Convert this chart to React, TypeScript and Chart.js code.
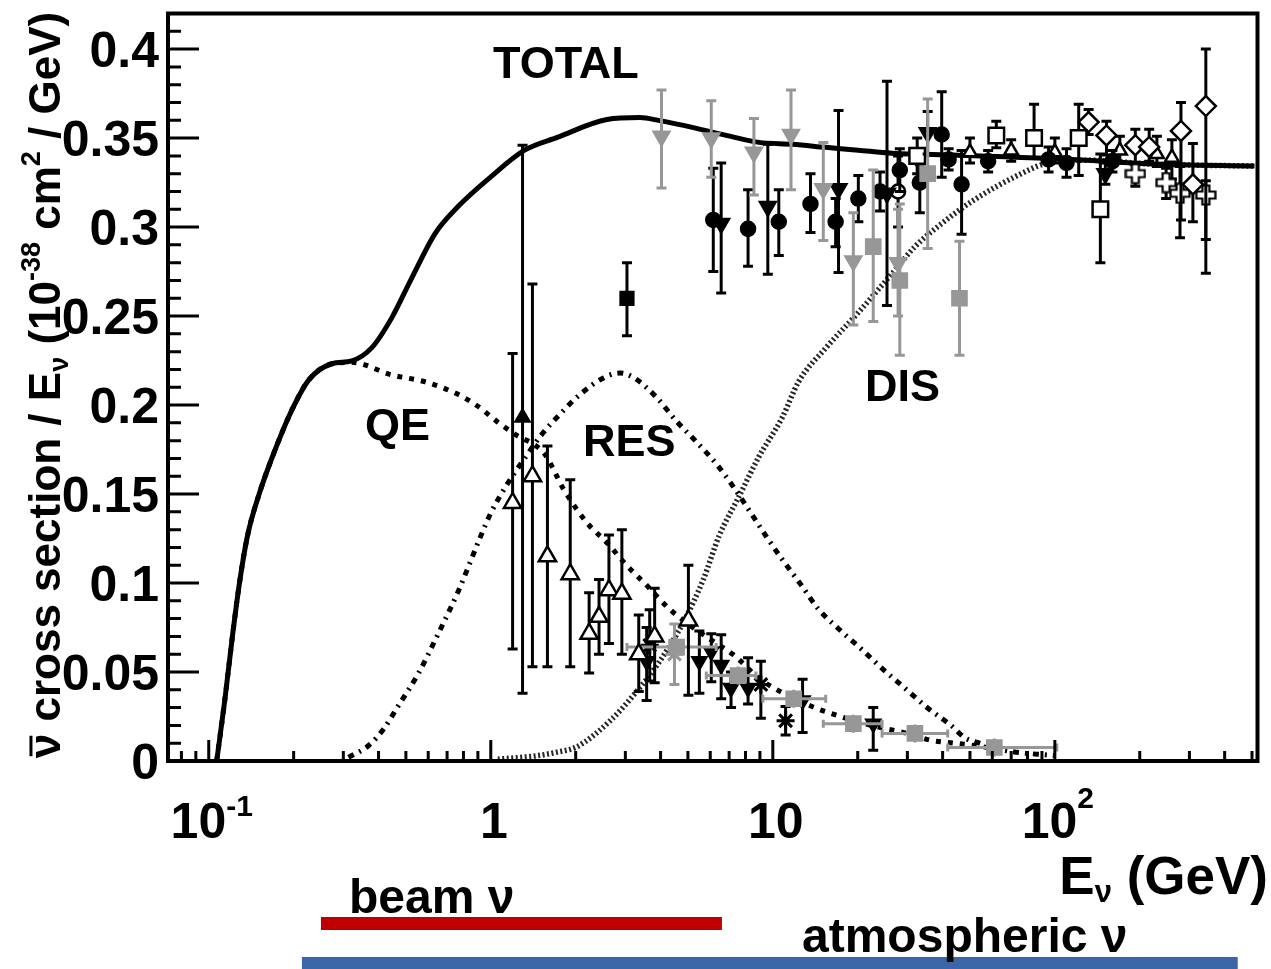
import { useEffect, useRef } from 'react';
import { Chart, registerables } from 'chart.js';

Chart.register(...registerables);

const FONT = '"Liberation Sans", Arial, Helvetica, sans-serif';
const GRAY = '#979797';

// Axis ranges: neutrino energy (GeV) and cross section per energy (1e-38 cm^2/GeV)
const E_MIN = 0.0717;
const E_MAX = 523;
const XS_MIN = 0;
const XS_MAX = 0.42;

const xMajorTicks = [0.1, 1, 10, 100];
const xTickBase = ['10', '1', '10', '10'];
const xTickExp = ['-1', '', '', '2'];
const yMajorTicks = [0, 0.05, 0.1, 0.15, 0.2, 0.25, 0.3, 0.35, 0.4];
const yTickLabels = ['0', '0.05', '0.1', '0.15', '0.2', '0.25', '0.3', '0.35', '0.4'];

// Model predictions
const totalE = [0.1067, 0.1139, 0.1215, 0.1286, 0.1372, 0.1512, 0.1735, 0.1976, 0.2268, 0.2733, 0.3214, 0.378, 0.4444, 0.5227, 0.6353, 0.7651, 1.0, 1.317, 1.721, 2.582, 3.375, 3.968, 5.228, 6.832, 8.928, 11.76, 15.37, 20.08, 26.46, 45.18, 129.6, 223.2, 510.4];
const totalXS = [0, 0.0337, 0.0709, 0.1004, 0.1265, 0.1504, 0.1765, 0.1976, 0.2143, 0.2232, 0.2248, 0.2321, 0.2487, 0.2709, 0.2965, 0.3115, 0.3282, 0.3432, 0.3504, 0.3604, 0.3615, 0.3598, 0.3559, 0.3515, 0.3476, 0.3465, 0.3448, 0.3432, 0.3415, 0.3404, 0.3376, 0.3354, 0.3343];

const qeE = [0.1067, 0.1139, 0.1215, 0.1286, 0.1372, 0.1512, 0.1735, 0.1976, 0.2268, 0.2733, 0.3214, 0.444, 0.586, 0.765, 0.9, 1.059, 1.215, 1.549, 1.823, 2.197, 2.583, 3.036, 3.57, 4.3, 5.06, 5.95, 7.23, 8.93, 10.25, 14.17, 16.26, 21.2, 30.1, 36.6, 41.6, 51.9, 66.1];
const qeXS = [0, 0.0337, 0.0709, 0.1004, 0.1265, 0.1504, 0.1765, 0.1976, 0.2143, 0.2232, 0.224, 0.217, 0.213, 0.206, 0.1993, 0.1904, 0.1837, 0.1726, 0.152, 0.1337, 0.1226, 0.1098, 0.0987, 0.0854, 0.0765, 0.0687, 0.0598, 0.0465, 0.0404, 0.0298, 0.0265, 0.0209, 0.0154, 0.0115, 0.0104, 0.0087, 0.006];

const resE = [0.313, 0.369, 0.417, 0.47, 0.553, 0.651, 0.765, 0.922, 1.0, 1.148, 1.318, 1.5, 1.763, 2.074, 2.519, 2.87, 3.215, 3.87, 4.55, 5.36, 6.3, 7.23, 8.23, 9.45, 10.8, 12.55, 14.5, 17.1, 20.7, 24.6, 29.4, 35.4, 43.0, 47.8, 53.1, 66.1, 99.2];
const resXS = [0.002, 0.0087, 0.018, 0.031, 0.049, 0.0715, 0.095, 0.1265, 0.1393, 0.156, 0.17, 0.1826, 0.195, 0.206, 0.2154, 0.218, 0.2154, 0.2043, 0.191, 0.1793, 0.167, 0.1543, 0.141, 0.1265, 0.1132, 0.0993, 0.0854, 0.0743, 0.0626, 0.0515, 0.0409, 0.0298, 0.0198, 0.0132, 0.0104, 0.006, 0.003];

const disE = [1.059, 1.464, 1.72, 2.02, 2.65, 3.3, 3.97, 4.82, 5.67, 6.45, 7.59, 8.93, 10.8, 12.35, 15.4, 20.1, 26.5, 31.9, 39.7, 51.9, 75.9, 91.5, 129.6, 223.2, 510.4];
const disXS = [0.001, 0.003, 0.005, 0.008, 0.0226, 0.0393, 0.056, 0.078, 0.102, 0.1265, 0.1487, 0.171, 0.193, 0.2132, 0.232, 0.252, 0.274, 0.289, 0.302, 0.3154, 0.33, 0.3354, 0.3376, 0.3354, 0.3343];

// Measurements: [E (GeV), sigma/E, lower error, upper error]
type Pt = [number, number, number, number];

const openTriLow: Pt[] = [
  [1.195, 0.145, 0.082, 0.084],
  [1.405, 0.16, 0.107, 0.108],
  [1.588, 0.115, 0.062, 0.062],
  [1.913, 0.105, 0.052, 0.053],
  [2.232, 0.0715, 0.022, 0.023],
  [2.42, 0.081, 0.021, 0.021],
  [2.624, 0.096, 0.03, 0.031],
  [2.916, 0.094, 0.034, 0.036],
  [3.347, 0.06, 0.021, 0.022],
  [3.811, 0.07, 0.026, 0.027],
  [5.02, 0.079, 0.042, 0.031],
];
const filledTriLow: Pt[] = [[1.296, 0.193, 0.155, 0.153]];
const blackSquare: Pt[] = [[3.04, 0.26, 0.021, 0.02]];
const grayDownTri: Pt[] = [
  [4.03, 0.351, 0.029, 0.026],
  [6.05, 0.35, 0.022, 0.021],
  [8.57, 0.342, 0.024, 0.019],
  [11.6, 0.352, 0.031, 0.025],
  [15.1, 0.3215, 0.029, 0.026],
  [19.3, 0.281, 0.036, 0.027],
  [27.8, 0.28, 0.03, 0.03],
];
const graySquareHigh: Pt[] = [
  [22.7, 0.289, 0.042, 0.043],
  [28.2, 0.27, 0.042, 0.043],
  [35.4, 0.33, 0.042, 0.042],
  [45.9, 0.26, 0.032, 0.032],
];
const blackCircle: Pt[] = [
  [6.15, 0.304, 0.029, 0.029],
  [8.17, 0.299, 0.021, 0.022],
  [10.5, 0.303, 0.019, 0.018],
  [13.6, 0.313, 0.016, 0.017],
  [16.7, 0.303, 0.014, 0.013],
  [20.1, 0.316, 0.013, 0.013],
  [24.0, 0.32, 0.011, 0.011],
  [28.2, 0.332, 0.012, 0.012],
  [33.2, 0.325, 0.017, 0.01],
  [39.7, 0.352, 0.024, 0.024],
  [46.7, 0.324, 0.028, 0.019],
  [42, 0.338, 0.006, 0.006],
  [58, 0.337, 0.006, 0.006],
  [95, 0.338, 0.007, 0.007],
  [110, 0.336, 0.008, 0.008],
  [160, 0.337, 0.006, 0.006],
];
const blackDownTriHigh: Pt[] = [
  [6.56, 0.302, 0.039, 0.034],
  [9.6, 0.3115, 0.038, 0.035],
  [17.1, 0.3215, 0.047, 0.044],
  [25.4, 0.319, 0.063, 0.063],
  [35.4, 0.353, 0.012, 0.012],
  [151, 0.33, 0.006, 0.006],
];
const openCircle: Pt[] = [[27.8, 0.32, 0.02, 0.02]];
const blackDownTriLow: Pt[] = [
  [3.57, 0.056, 0.022, 0.019],
  [5.49, 0.056, 0.018, 0.017],
  [6.05, 0.0615, 0.017, 0.01],
  [6.56, 0.054, 0.019, 0.017],
  [7.11, 0.041, 0.011, 0.009],
  [8.17, 0.041, 0.009, 0.017],
  [12.75, 0.034, 0.018, 0.012],
  [22.7, 0.021, 0.015, 0.009],
];
const blackStar: Pt[] = [
  [3.66, 0.065, 0.02, 0.02],
  [9.07, 0.043, 0.019, 0.013],
  [11.1, 0.0226, 0.008, 0.008],
];
const grayStar: Pt[] = [[4.48, 0.06, 0.017, 0.017]];
// [E (GeV), sigma/E, energy bin low, energy bin high]
const graySquareBinned: Pt[] = [
  [4.56, 0.064, 3.04, 6.3],
  [7.53, 0.048, 5.81, 8.71],
  [11.86, 0.035, 9.22, 15.4],
  [19.3, 0.021, 15.1, 24.4],
  [31.9, 0.0155, 24.4, 41.7],
  [61, 0.0076, 41.7, 101.6],
];
const openSquare: Pt[] = [
  [32.5, 0.34, 0.01, 0.01],
  [62, 0.3515, 0.007, 0.008],
  [84.4, 0.35, 0.011, 0.019],
  [121.5, 0.35, 0.021, 0.019],
  [145, 0.31, 0.03, 0.031],
];
const openDiamond: Pt[] = [
  [131.7, 0.359, 0.007, 0.007],
  [152.4, 0.3515, 0.011, 0.008],
  [192.9, 0.346, 0.01, 0.009],
  [216, 0.345, 0.008, 0.01],
  [280, 0.354, 0.05, 0.016],
  [308.6, 0.324, 0.021, 0.023],
  [343, 0.368, 0.094, 0.032],
];
const openCross: Pt[] = [
  [192.9, 0.33, 0.007, 0.005],
  [248, 0.325, 0.009, 0.008],
  [277.8, 0.319, 0.025, 0.015],
  [343, 0.318, 0.025, 0.008],
];
const openTriHigh: Pt[] = [
  [50, 0.342, 0.006, 0.008],
  [70, 0.343, 0.006, 0.006],
  [100, 0.342, 0.006, 0.008],
  [170, 0.343, 0.007, 0.008],
  [230, 0.341, 0.007, 0.01],
  [260, 0.339, 0.012, 0.01],
];

// Energy coverage of the two neutrino sources (GeV)
const beamRange = [0.25, 6.6];
const atmRange = [0.214, 445];

type Part = { t: string; size: number; dy: number; bar?: boolean };

function partsWidth(ctx: CanvasRenderingContext2D, parts: Part[]) {
  let w = 0;
  for (const p of parts) {
    ctx.font = `bold ${p.size}px ${FONT}`;
    w += ctx.measureText(p.t).width;
  }
  return w;
}

function drawParts(ctx: CanvasRenderingContext2D, parts: Part[], x: number, y: number) {
  let cx = x;
  for (const p of parts) {
    ctx.font = `bold ${p.size}px ${FONT}`;
    ctx.fillText(p.t, cx, y + p.dy);
    const w = ctx.measureText(p.t).width;
    if (p.bar) {
      ctx.save();
      ctx.lineWidth = 3;
      ctx.beginPath();
      ctx.moveTo(cx + 2, y + p.dy - p.size * 0.66);
      ctx.lineTo(cx + w - 2, y + p.dy - p.size * 0.66);
      ctx.stroke();
      ctx.restore();
    }
    cx += w;
  }
}

function makeOpenCross(): HTMLCanvasElement {
  const c = document.createElement('canvas');
  c.width = 22;
  c.height = 22;
  const g = c.getContext('2d')!;
  const a = 3.5, b = 9.5, o = 11;
  g.beginPath();
  g.moveTo(o - a, o - b);
  g.lineTo(o + a, o - b);
  g.lineTo(o + a, o - a);
  g.lineTo(o + b, o - a);
  g.lineTo(o + b, o + a);
  g.lineTo(o + a, o + a);
  g.lineTo(o + a, o + b);
  g.lineTo(o - a, o + b);
  g.lineTo(o - a, o + a);
  g.lineTo(o - b, o + a);
  g.lineTo(o - b, o - a);
  g.lineTo(o - a, o - a);
  g.closePath();
  g.fillStyle = '#fff';
  g.fill();
  g.lineWidth = 2.2;
  g.strokeStyle = '#000';
  g.stroke();
  return c;
}

const errorBarPlugin = {
  id: 'errorBars',
  beforeDatasetDraw(chart: any, args: any) {
    const ds = chart.data.datasets[args.index];
    if (!ds.errLo && !ds.binLo) return;
    const xs = chart.scales.x;
    const ys = chart.scales.y;
    const ctx: CanvasRenderingContext2D = chart.ctx;
    const area = chart.chartArea;
    ctx.save();
    ctx.beginPath();
    ctx.rect(area.left, area.top, area.right - area.left, area.bottom - area.top);
    ctx.clip();
    ctx.strokeStyle = ds.errColor;
    ctx.lineWidth = 3;
    ds.data.forEach((p: any, i: number) => {
      const px = xs.getPixelForValue(p.x);
      const py = ys.getPixelForValue(p.y);
      if (ds.errLo) {
        const top = ys.getPixelForValue(p.y + ds.errHi[i]);
        const bot = ys.getPixelForValue(p.y - ds.errLo[i]);
        ctx.beginPath();
        ctx.moveTo(px, top);
        ctx.lineTo(px, bot);
        ctx.moveTo(px - 5, top);
        ctx.lineTo(px + 5, top);
        ctx.moveTo(px - 5, bot);
        ctx.lineTo(px + 5, bot);
        ctx.stroke();
      }
      if (ds.binLo) {
        const l = xs.getPixelForValue(ds.binLo[i]);
        const r = xs.getPixelForValue(ds.binHi[i]);
        ctx.beginPath();
        ctx.moveTo(l, py);
        ctx.lineTo(r, py);
        ctx.moveTo(l, py - 4);
        ctx.lineTo(l, py + 4);
        ctx.moveTo(r, py - 4);
        ctx.lineTo(r, py + 4);
        ctx.moveTo(px, py - 9);
        ctx.lineTo(px, py + 9);
        ctx.stroke();
      }
    });
    ctx.restore();
  },
};

const framePlugin = {
  id: 'frame',
  afterDraw(chart: any) {
    const ctx: CanvasRenderingContext2D = chart.ctx;
    const { left, right, top, bottom } = chart.chartArea;
    const xs = chart.scales.x;
    const ys = chart.scales.y;
    ctx.save();
    ctx.strokeStyle = '#000';
    ctx.fillStyle = '#000';

    // tick marks, drawn inside the frame
    ctx.lineWidth = 3;
    ctx.beginPath();
    for (let i = 0; i <= 42; i++) {
      const v = i / 100;
      const y = ys.getPixelForValue(v);
      const len = i % 5 === 0 ? 31 : 13;
      ctx.moveTo(left, y);
      ctx.lineTo(left + len, y);
    }
    for (let d = -2; d <= 2; d++) {
      for (let k = 1; k <= 9; k++) {
        const v = k * Math.pow(10, d);
        if (v < E_MIN || v > E_MAX) continue;
        const x = xs.getPixelForValue(v);
        const len = k === 1 ? 21 : 10;
        ctx.moveTo(x, bottom);
        ctx.lineTo(x, bottom - len);
      }
    }
    ctx.stroke();

    ctx.lineWidth = 4;
    ctx.strokeRect(left, top, right - left, bottom - top);

    // y tick labels
    ctx.font = `bold 50px ${FONT}`;
    ctx.textAlign = 'right';
    ctx.textBaseline = 'middle';
    yMajorTicks.forEach((v, i) => {
      ctx.fillText(yTickLabels[i], left - 9, ys.getPixelForValue(v) + 4);
    });

    // x tick labels with exponents
    ctx.textAlign = 'left';
    ctx.textBaseline = 'alphabetic';
    xMajorTicks.forEach((v, i) => {
      const parts: Part[] = [{ t: xTickBase[i], size: 50, dy: 0 }];
      if (xTickExp[i]) parts.push({ t: xTickExp[i], size: 30, dy: xTickExp[i] === '2' ? -30 : -22 });
      const w = partsWidth(ctx, parts);
      drawParts(ctx, parts, xs.getPixelForValue(v) - w / 2 + 3, 838);
    });

    // axis titles
    const xTitle: Part[] = [
      { t: 'E', size: 53, dy: 0 },
      { t: 'ν', size: 31, dy: 8 },
      { t: ' (GeV)', size: 53, dy: 0 },
    ];
    drawParts(ctx, xTitle, 1268 - partsWidth(ctx, xTitle), 894);

    const yTitle: Part[] = [
      { t: 'ν', size: 44, dy: 0, bar: true },
      { t: ' cross section / E', size: 44, dy: 0 },
      { t: 'ν', size: 27, dy: 8 },
      { t: ' (10', size: 44, dy: 0 },
      { t: '-38', size: 27, dy: -20 },
      { t: ' cm', size: 44, dy: 0 },
      { t: '2', size: 27, dy: -20 },
      { t: ' / GeV)', size: 44, dy: 0 },
    ];
    const tw = partsWidth(ctx, yTitle);
    ctx.save();
    ctx.translate(60, 385);
    ctx.rotate(-Math.PI / 2);
    drawParts(ctx, yTitle, -tw / 2, 0);
    ctx.restore();

    // curve names
    ctx.font = `bold 45px ${FONT}`;
    ctx.fillText('TOTAL', 493, 78);
    ctx.fillText('QE', 365, 440);
    ctx.fillText('RES', 583, 456);
    ctx.fillText('DIS', 865, 401);

    // energy coverage bars below the axis
    ctx.fillStyle = '#C00000';
    const bl = xs.getPixelForValue(beamRange[0]);
    const br = xs.getPixelForValue(beamRange[1]);
    ctx.fillRect(bl, 917, br - bl, 13);
    ctx.fillStyle = '#3A66A7';
    const al = xs.getPixelForValue(atmRange[0]);
    const ar = xs.getPixelForValue(atmRange[1]);
    ctx.fillRect(al, 957, ar - al, 12);

    ctx.fillStyle = '#000';
    ctx.font = `bold 48px ${FONT}`;
    ctx.fillText('beam ν', 349, 913);
    ctx.fillText('atmospheric ν', 802, 952);
    ctx.restore();
  },
};

function curve(label: string, es: number[], vals: number[], style: any) {
  return {
    type: 'line',
    label,
    data: es.map((e, i) => ({ x: e, y: vals[i] })),
    pointRadius: 0,
    fill: false,
    cubicInterpolationMode: 'monotone',
    order: 10,
    ...style,
  };
}

function points(label: string, pts: Pt[], style: any, binned = false) {
  const base: any = {
    type: 'scatter',
    label,
    data: pts.map((p) => ({ x: p[0], y: p[1] })),
    order: 0,
    errColor: '#000',
    borderWidth: 2.5,
    ...style,
  };
  if (binned) {
    base.binLo = pts.map((p) => p[2]);
    base.binHi = pts.map((p) => p[3]);
  } else {
    base.errLo = pts.map((p) => p[2]);
    base.errHi = pts.map((p) => p[3]);
  }
  return base;
}

export default function App() {
  const ref = useRef<HTMLCanvasElement | null>(null);

  useEffect(() => {
    const canvas = ref.current;
    if (!canvas) return;
    const cross = makeOpenCross();

    const datasets: any[] = [
      curve('TOTAL', totalE, totalXS, { borderColor: '#000', borderWidth: 5 }),
      curve('QE', qeE, qeXS, { borderColor: '#000', borderWidth: 5, borderDash: [5, 7] }),
      curve('RES', resE, resXS, { borderColor: '#000', borderWidth: 5, borderDash: [6, 6, 2, 6] }),
      curve('DIS', disE, disXS, { borderColor: '#262626', borderWidth: 5.5, borderDash: [2, 2.5] }),

      points('open tri', openTriLow, { pointStyle: 'triangle', pointRadius: 10, backgroundColor: '#fff', borderColor: '#000' }),
      points('filled tri', filledTriLow, { pointStyle: 'triangle', pointRadius: 8, backgroundColor: '#000', borderColor: '#000' }),
      points('black square', blackSquare, { pointStyle: 'rect', pointRadius: 9, backgroundColor: '#000', borderColor: '#000' }),
      points('gray down tri', grayDownTri, { pointStyle: 'triangle', rotation: 180, pointRadius: 9, backgroundColor: GRAY, borderColor: GRAY, errColor: GRAY }),
      points('gray square', graySquareHigh, { pointStyle: 'rect', pointRadius: 10, backgroundColor: GRAY, borderColor: GRAY, errColor: GRAY }),
      points('gray square binned', graySquareBinned, { pointStyle: 'rect', pointRadius: 10, backgroundColor: GRAY, borderColor: GRAY, errColor: GRAY }, true),
      points('gray star', grayStar, { pointStyle: 'star', pointRadius: 9, borderColor: GRAY, errColor: GRAY, borderWidth: 3 }),
      points('black circle', blackCircle, { pointStyle: 'circle', pointRadius: 7, backgroundColor: '#000', borderColor: '#000' }),
      points('black down tri', blackDownTriHigh, { pointStyle: 'triangle', rotation: 180, pointRadius: 9, backgroundColor: '#000', borderColor: '#000' }),
      points('open circle', openCircle, { pointStyle: 'circle', pointRadius: 7, backgroundColor: '#fff', borderColor: '#000' }),
      points('black down tri low', blackDownTriLow, { pointStyle: 'triangle', rotation: 180, pointRadius: 8, backgroundColor: '#000', borderColor: '#000' }),
      points('black star', blackStar, { pointStyle: 'star', pointRadius: 9, borderColor: '#000', borderWidth: 3 }),
      points('open square', openSquare, { pointStyle: 'rect', pointRadius: 11, backgroundColor: '#fff', borderColor: '#000' }),
      points('open diamond', openDiamond, { pointStyle: 'rectRot', pointRadius: 10, backgroundColor: '#fff', borderColor: '#000' }),
      points('open cross', openCross, { pointStyle: cross, pointRadius: 11 }),
      points('open tri high', openTriHigh, { pointStyle: 'triangle', pointRadius: 8, backgroundColor: '#fff', borderColor: '#000' }),
    ];

    const chart = new Chart(canvas, {
      type: 'scatter',
      data: { datasets },
      options: {
        animation: false,
        responsive: false,
        devicePixelRatio: 1,
        events: [],
        layout: { padding: { left: 168, right: 5, top: 5, bottom: 208 } },
        plugins: { legend: { display: false }, tooltip: { enabled: false } },
        scales: {
          x: { type: 'logarithmic', min: E_MIN, max: E_MAX, display: false },
          y: { type: 'linear', min: XS_MIN, max: XS_MAX, display: false },
        },
      } as any,
      plugins: [errorBarPlugin, framePlugin],
    });
    return () => chart.destroy();
  }, []);

  return (
    <div style={{ position: 'absolute', left: 0, top: 0, width: 1271, height: 969, background: '#fff' }}>
      <canvas ref={ref} width={1271} height={969} style={{ display: 'block' }} />
    </div>
  );
}
